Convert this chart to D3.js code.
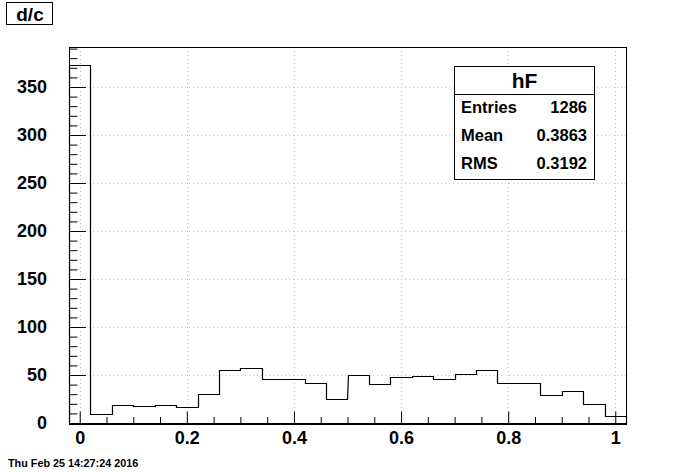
<!DOCTYPE html>
<html>
<head>
<meta charset="utf-8">
<script src="https://cdn.jsdelivr.net/npm/d3@7"></script>
<style>
html,body{margin:0;padding:0;background:#fff;}
svg{display:block;}
text{font-family:"Liberation Sans",Arial,Helvetica,sans-serif;font-weight:bold;fill:#000;}
</style>
</head>
<body>
<svg id="c" width="696" height="472"></svg>
<script>
// ---- data ----
const binStart = -0.02;
const binWidth = 0.04;
const counts = [373, 9, 19, 18, 19, 17, 30, 55, 57, 46, 46, 42, 25, 50, 41, 48, 49, 46, 51, 55, 42, 42, 29, 33, 20, 7];
const xTicks = [0, 0.2, 0.4, 0.6, 0.8, 1];
const xTickLabels = ["0", "0.2", "0.4", "0.6", "0.8", "1"];
const yTicks = [0, 50, 100, 150, 200, 250, 300, 350];
const histTitle = "d/c";
const statsName = "hF";
const statsLabels = ["Entries", "Mean", "RMS"];
const statsValues = ["1286", "0.3863", "0.3192"];
const dateText = "Thu Feb 25 14:27:24 2016";

// ---- layout ----
const L = 69, R = 626, T = 47, B = 423;
const svg = d3.select("#c");
const x = d3.scaleLinear().domain([-0.02, 1.02]).range([L, R]);
const yMax = d3.max(counts) * 1.05;
const y = d3.scaleLinear().domain([0, yMax]).range([B, T]);

// grid
const g = svg.append("g");
g.selectAll("line.gx").data(xTicks).enter().append("line")
  .attr("x1", d => Math.round(x(d)) + 0.5).attr("x2", d => Math.round(x(d)) + 0.5)
  .attr("y1", T).attr("y2", B)
  .attr("stroke", "#c4c4c4").attr("stroke-width", 1).attr("stroke-dasharray", "1,3");
g.selectAll("line.gy").data(yTicks).enter().append("line")
  .attr("y1", d => Math.round(y(d)) + 0.5).attr("y2", d => Math.round(y(d)) + 0.5)
  .attr("x1", L).attr("x2", R)
  .attr("stroke", "#c4c4c4").attr("stroke-width", 1).attr("stroke-dasharray", "1,3");

// histogram step line
const pts = [];
counts.forEach((c, i) => {
  const x0 = binStart + i * binWidth, x1 = x0 + binWidth;
  pts.push([x(x0), y(c)]);
  pts.push([x(x1), y(c)]);
});
pts.unshift([x(binStart), y(0)]);
pts.push([x(binStart + counts.length * binWidth), y(0)]);
svg.append("path")
  .attr("d", d3.line()(pts.map(p => [Math.round(p[0]) + 0.5, Math.round(p[1]) + 0.5])))
  .attr("fill", "none").attr("stroke", "#000").attr("stroke-width", 1.2);

// frame
svg.append("rect").attr("x", L + 0.5).attr("y", T + 0.5)
  .attr("width", R - L).attr("height", B - T)
  .attr("fill", "none").attr("stroke", "#000").attr("stroke-width", 1);

// x axis
const xAxis = d3.axisBottom(x).tickValues(xTicks).tickFormat((d, i) => xTickLabels[i])
  .tickSizeInner(-11.5).tickSizeOuter(0).tickPadding(15);
const xa = svg.append("g").attr("transform", `translate(0,${B})`).call(xAxis);
xa.select(".domain").remove();
xa.selectAll("line").attr("stroke", "#000");
xa.selectAll("text").style("font-size", "18px").attr("dy", "0.35em");
const xMinor = d3.range(0, 1.0001, 0.05).filter(v => !xTicks.some(t => Math.abs(t - v) < 1e-9));
const xm = d3.axisBottom(x).tickValues(xMinor).tickFormat("").tickSizeInner(-6).tickSizeOuter(0);
const xma = svg.append("g").attr("transform", `translate(0,${B})`).call(xm);
xma.select(".domain").remove();
xma.selectAll("line").attr("stroke", "#000");
svg.append("line").attr("x1", L).attr("x2", R + 1).attr("y1", B + 1).attr("y2", B + 1)
  .attr("stroke", "#000").attr("stroke-width", 2);

// y axis
const yAxis = d3.axisLeft(y).tickValues(yTicks).tickFormat(d3.format("d"))
  .tickSizeInner(-17).tickSizeOuter(0).tickPadding(22);
const ya = svg.append("g").attr("transform", `translate(${L},0)`).call(yAxis);
ya.select(".domain").remove();
ya.selectAll("line").attr("stroke", "#000");
ya.selectAll("text").style("font-size", "18px");
const yMinor = d3.range(0, yMax, 10).filter(v => v % 50 !== 0);
const ym = d3.axisLeft(y).tickValues(yMinor).tickFormat("").tickSizeInner(-8.5).tickSizeOuter(0);
const yma = svg.append("g").attr("transform", `translate(${L},0)`).call(ym);
yma.select(".domain").remove();
yma.selectAll("line").attr("stroke", "#000");

// title box
svg.append("rect").attr("x", 6.5).attr("y", 2.5).attr("width", 46).attr("height", 22)
  .attr("fill", "#fff").attr("stroke", "#000");
svg.append("text").attr("x", 30).attr("y", 20.5).attr("text-anchor", "middle")
  .style("font-size", "19px").text(histTitle);

// stats box
const sx0 = 454, sx1 = 594, sy0 = 66, sy1 = 179, sSep = 94;
svg.append("rect").attr("x", sx0 + 0.5).attr("y", sy0 + 0.5).attr("width", sx1 - sx0).attr("height", sy1 - sy0)
  .attr("fill", "#fff").attr("stroke", "#000");
svg.append("line").attr("x1", sx0).attr("x2", sx1).attr("y1", sSep + 0.5).attr("y2", sSep + 0.5).attr("stroke", "#000");
svg.append("text").attr("x", (sx0 + sx1) / 2 + 0.5).attr("y", 88).attr("text-anchor", "middle")
  .style("font-size", "21px").text(statsName);
statsLabels.forEach((lab, i) => {
  const by = 113 + i * 28;
  svg.append("text").attr("x", 461).attr("y", by).style("font-size", "16.5px").text(lab);
  svg.append("text").attr("x", 587).attr("y", by).attr("text-anchor", "end").style("font-size", "16.5px").text(statsValues[i]);
});

// date
svg.append("text").attr("x", 8).attr("y", 467).style("font-size", "10.8px").text(dateText);
</script>
</body>
</html>
